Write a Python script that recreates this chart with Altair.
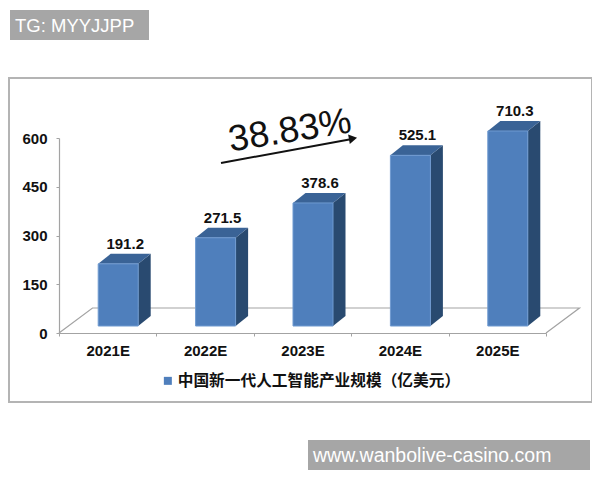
import altair as alt
import pandas as pd

years = ["2021E", "2022E", "2023E", "2024E", "2025E"]
values = [191.2, 271.5, 378.6, 525.1, 710.3]
series_name = "中国新一代人工智能产业规模（亿美元）"
y_ticks = [0, 150, 300, 450, 600]
growth_label = "38.83%"
mark_left = "TG: MYYJJPP"
mark_right = "www.wanbolive-casino.com"

# plot geometry
W, H = 487, 195
Y_MAX = 600
STEP = W / len(years)
px_x = 1 / STEP            # one pixel in x units
px_y = Y_MAX / H           # one pixel in y units
BAR_W = 40
BAR_SHIFT = 10.5
LIFT = 7 * px_y            # bars stand a little behind the front edge
DX, DY = 12.5 * px_x, 10 * px_y
FLOOR_DX, FLOOR_DY = 33.5 * px_x, 25 * px_y

FRONT = "#4f7fbc"
SIDE = "#294a70"
TOP = "#3a6396"
GREY = "#a3a3a3"
FONT = "Liberation Sans"

bars = pd.DataFrame({"year": years, "value": values})
bars["series"] = series_name
bars["base"] = LIFT
bars["top"] = bars["value"].clip(upper=Y_MAX) + LIFT
bars["label"] = bars["value"].map(lambda v: f"{v:.1f}")

side_rows, top_rows = [], []
for i, row in bars.iterrows():
    left = i + 0.5 + (BAR_SHIFT - BAR_W / 2) * px_x
    right = i + 0.5 + (BAR_SHIFT + BAR_W / 2) * px_x
    side_rows += [
        dict(year=row.year, x=right, y=row.top, y2=row.base),
        dict(year=row.year, x=right + DX, y=row.top + DY, y2=row.base + DY),
    ]
    top_rows += [
        dict(year=row.year, y=row.top, x=left, x2=right),
        dict(year=row.year, y=row.top + DY, x=left + DX, x2=right + DX),
    ]
side = pd.DataFrame(side_rows)
top = pd.DataFrame(top_rows)
n = len(years)
floor = pd.DataFrame({
    "x": [0, FLOOR_DX, n + FLOOR_DX, n],
    "y": [0, FLOOR_DY, FLOOR_DY, 0],
    "o": [0, 1, 2, 3],
})

qx = alt.Scale(domain=[0, n], nice=False, zero=False)
qy = alt.Scale(domain=[0, Y_MAX], nice=False)
one = pd.DataFrame({"a": [0]})


def X(field):
    return alt.X(field, type="quantitative", scale=qx, axis=None)


band = alt.X("year:N", sort=years, title=None,
             scale=alt.Scale(paddingInner=0, paddingOuter=0),
             axis=alt.Axis(labelAngle=0, tickBand="extent", labelFont=FONT, labelFontSize=15,
                           labelFontWeight="bold", labelColor="#111111", labelPadding=7,
                           domainColor=GREY, domainWidth=1.2, tickColor=GREY, tickSize=3, zindex=1))

frame = alt.Chart(one).mark_rect(fill="white", stroke="#b4b4b4", strokeWidth=2).encode(
    x=alt.value(-50), x2=alt.value(533), y=alt.value(-60), y2=alt.value(264))

box1 = alt.Chart(one).mark_rect(fill="#a6a6a6").encode(
    x=alt.value(-49), x2=alt.value(90), y=alt.value(-128), y2=alt.value(-98))
box2 = alt.Chart(one).mark_rect(fill="#a6a6a6").encode(
    x=alt.value(249), x2=alt.value(531), y=alt.value(302), y2=alt.value(332))
text1 = alt.Chart(pd.DataFrame({"t": [mark_left]})).mark_text(
    font=FONT, fontSize=18.5, color="white", align="left", baseline="alphabetic").encode(
    x=alt.value(-44), y=alt.value(-106), text="t:N")
text2 = alt.Chart(pd.DataFrame({"t": [mark_right]})).mark_text(
    font=FONT, fontSize=19.5, color="white", align="left", baseline="alphabetic").encode(
    x=alt.value(254), y=alt.value(324), text="t:N")

floor_line = alt.Chart(floor).mark_line(color=GREY, strokeWidth=1.2).encode(
    x=X("x"), y=alt.Y("y:Q", scale=qy, title=None,
                      axis=alt.Axis(values=y_ticks, grid=False, labelFont=FONT, labelFontSize=15,
                                    labelFontWeight="bold", labelColor="#111111", labelPadding=9,
                                    domainColor=GREY, domainWidth=1.2, tickColor=GREY, tickSize=3,
                                    zindex=1)),
    order="o:Q")

side_face = alt.Chart(side).mark_area(color=SIDE, orient="vertical").encode(
    x=X("x"), y=alt.Y("y:Q", scale=qy), y2="y2:Q", detail="year:N")
top_face = alt.Chart(top).mark_area(color=TOP, orient="horizontal").encode(
    y=alt.Y("y:Q", scale=qy), x=X("x"), x2="x2:Q", detail="year:N")

front = alt.Chart(bars).mark_bar(size=BAR_W, xOffset=BAR_SHIFT, stroke="#6f9ad0", strokeWidth=1).encode(
    x=band, y=alt.Y("top:Q", scale=qy), y2="base:Q",
    color=alt.Color("series:N", scale=alt.Scale(range=[FRONT]),
                    legend=alt.Legend(orient="none", legendX=101, legendY=235, title=None,
                                      symbolType="square", symbolSize=64, symbolStrokeWidth=0,
                                      labelFont="Noto Sans CJK SC", labelFontSize=15.7,
                                      labelFontWeight="bold", labelColor="#111111",
                                      labelLimit=320, labelOffset=2)))

labels = alt.Chart(bars).mark_text(
    font=FONT, fontSize=15, fontWeight="bold", color="#111111", baseline="alphabetic",
    xOffset=BAR_SHIFT + 7, yOffset=-15).encode(
    x=alt.X("year:N", sort=years, axis=None, scale=alt.Scale(paddingInner=0, paddingOuter=0)),
    y=alt.Y("top:Q", scale=qy), text="label:N")

arrow = alt.Chart(one).mark_rule(color="#111111", strokeWidth=2).encode(
    x=alt.value(162), x2=alt.value(293), y=alt.value(25), y2=alt.value(1))
head = alt.Chart(one).mark_point(shape="triangle-right", filled=True, color="#111111", size=90,
                                 angle=350, opacity=1).encode(
    x=alt.value(294), y=alt.value(0.5))
growth = alt.Chart(pd.DataFrame({"t": [growth_label]})).mark_text(
    font=FONT, fontSize=36.5, color="#111111", angle=351, align="center", baseline="middle").encode(
    x=alt.value(231), y=alt.value(-7), text="t:N")

chart = alt.layer(
    frame, box1, box2, text1, text2, floor_line, side_face, top_face, front, labels, arrow, head, growth
).resolve_scale(x="independent", color="independent").properties(
    width=W, height=H,
    padding={"left": 51, "top": 130, "right": 46, "bottom": 137},
    autosize=alt.AutoSizeParams(type="none"),
    background="white",
).configure_view(stroke=None)

chart.save("out.html", embed_options={"renderer": "svg", "actions": False})
